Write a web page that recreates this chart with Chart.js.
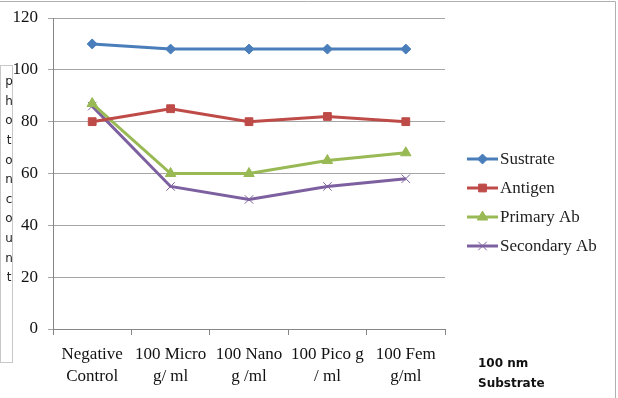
<!DOCTYPE html>
<html>
<head>
<meta charset="utf-8">
<script src="https://cdn.jsdelivr.net/npm/chart.js@4/dist/chart.umd.min.js"></script>
<style>
  html, body { margin: 0; padding: 0; background: #fff; }
  #wrap { width: 618px; height: 398px; position: relative; }
</style>
</head>
<body>
<div id="wrap"><canvas id="chart" width="618" height="398"></canvas></div>
<script>
const categories = [
  ["Negative", "Control"],
  ["100 Micro", "g/ ml"],
  ["100 Nano", "g /ml"],
  ["100 Pico g", "/ ml"],
  ["100 Fem", "g/ml"]
];
const sustrate = [110, 108, 108, 108, 108];
const antigen = [80, 85, 80, 82, 80];
const primaryAb = [87, 60, 60, 65, 68];
const secondaryAb = [86, 55, 50, 55, 58];
const yTitle = "photoncount";
const xNote = ["100 nm", "Substrate"];

const serif = "'Liberation Serif', 'Times New Roman', serif";

// stacked letter axis title, legend, corner note, frame
const extras = {
  id: "extras",
  afterDraw(chart) {
    const ctx = chart.ctx;
    ctx.save();

    // outer frame (top + right only)
    ctx.strokeStyle = "#b0b0b0";
    ctx.lineWidth = 1;
    ctx.beginPath();
    ctx.moveTo(0, 1.5); ctx.lineTo(615.5, 1.5); ctx.lineTo(615.5, 398);
    ctx.stroke();

    // y title box
    ctx.fillStyle = "#fff";
    ctx.fillRect(0.5, 65.5, 12, 297);
    ctx.strokeStyle = "#c8c8c8";
    ctx.strokeRect(0.5, 65.5, 12, 297);
    ctx.fillStyle = "#222";
    ctx.font = "12px 'DejaVu Sans', sans-serif";
    ctx.textAlign = "center";
    ctx.textBaseline = "middle";
    yTitle.split("").forEach((ch, i) => {
      ctx.fillText(ch, 9, 82 + i * 19.6);
    });

    // legend
    ctx.font = "17px " + serif;
    ctx.textAlign = "left";
    chart.data.datasets.forEach((ds, i) => {
      const y = 159 + i * 29;
      ctx.strokeStyle = ds.borderColor;
      ctx.fillStyle = ds.borderColor;
      ctx.lineWidth = 3;
      ctx.beginPath();
      ctx.moveTo(467, y); ctx.lineTo(498, y);
      ctx.stroke();
      ctx.lineWidth = 1;
      Chart.helpers.drawPoint(ctx, {
        pointStyle: ds.pointStyle,
        radius: ds.pointRadius,
        borderWidth: 1
      }, 482.5, y);
      ctx.fillStyle = "#222";
      ctx.fillText(ds.label, 500, y + 1);
    });

    // note under the legend
    ctx.font = "bold 12px 'DejaVu Sans', sans-serif";
    ctx.fillStyle = "#111";
    ctx.fillText(xNote[0], 478, 364);
    ctx.fillText(xNote[1], 478, 384);

    ctx.restore();
  }
};

function series(label, data, color, style, radius) {
  return {
    label: label,
    data: data,
    borderColor: color,
    backgroundColor: color,
    pointBackgroundColor: color,
    pointBorderColor: color,
    borderWidth: 3,
    pointStyle: style,
    pointRadius: radius,
    pointBorderWidth: 1,
    tension: 0
  };
}

new Chart(document.getElementById("chart"), {
  type: "line",
  data: {
    labels: categories,
    datasets: [
      series("Sustrate", sustrate, "#4A7EBB", "rectRot", 5),
      series("Antigen", antigen, "#BE4B48", "rect", 5.5),
      series("Primary Ab", primaryAb, "#98B954", "triangle", 6),
      series("Secondary Ab", secondaryAb, "#7D60A0", "crossRot", 6)
    ]
  },
  options: {
    responsive: false,
    animation: false,
    layout: { padding: { top: 18, right: 173, bottom: 0, left: 0 } },
    plugins: { legend: { display: false }, tooltip: { enabled: false } },
    scales: {
      x: {
        offset: true,
        grid: {
          offset: true,
          drawOnChartArea: false,
          drawTicks: true,
          tickLength: 6,
          color: "#868686"
        },
        border: { color: "#868686" },
        ticks: {
          color: "#111",
          font: { family: serif, size: 17, lineHeight: 1.3 },
          maxRotation: 0,
          autoSkip: false,
          padding: 8
        },
        afterFit(axis) { axis.height = 69; }
      },
      y: {
        min: 0,
        max: 120,
        ticks: {
          stepSize: 20,
          color: "#111",
          font: { family: serif, size: 17 },
          padding: 10
        },
        grid: { color: "#a6a6a6", tickLength: 5 },
        border: { color: "#868686" },
        afterFit(axis) {
          axis.width = 53;
          axis.paddingTop = 0;
        }
      }
    }
  },
  plugins: [extras]
});
</script>
</body>
</html>
